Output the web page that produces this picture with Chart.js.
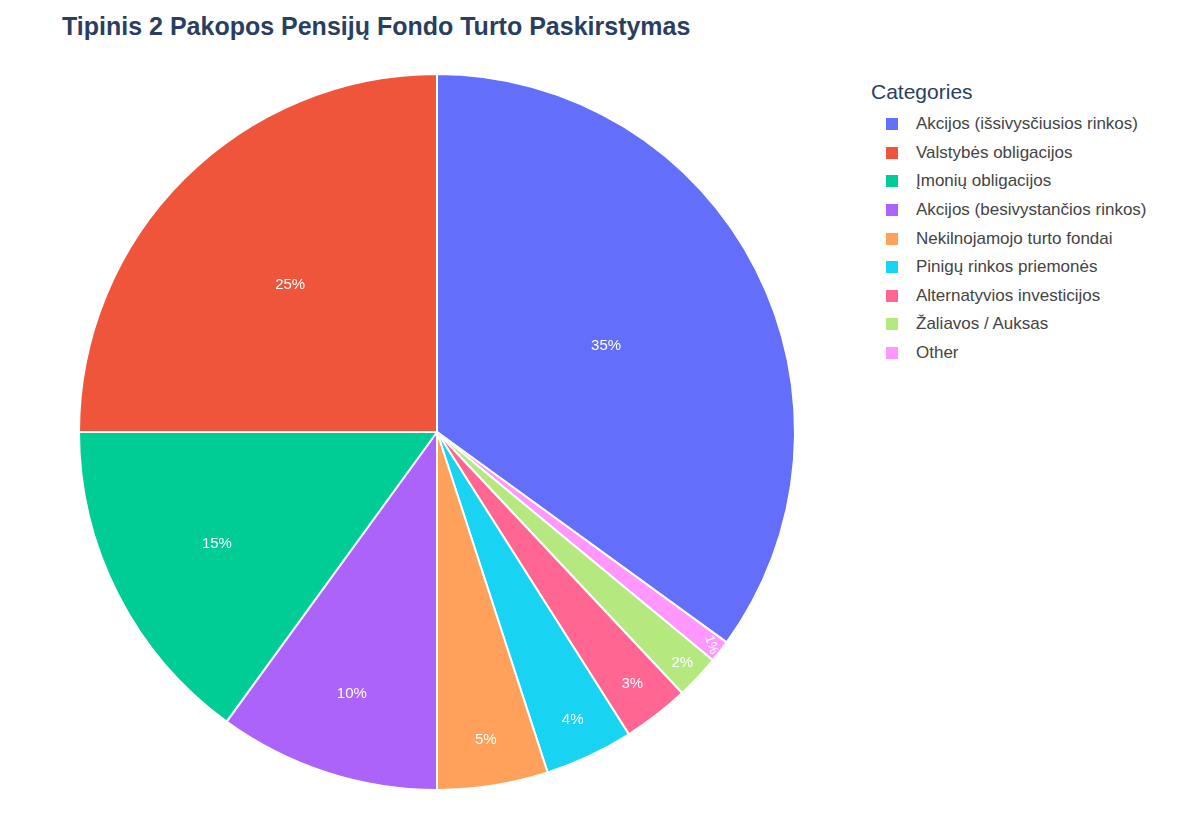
<!DOCTYPE html>
<html><head><meta charset="utf-8">
<script src="https://cdn.jsdelivr.net/npm/chart.js@4"></script>
<style>
body{margin:0;width:1200px;height:840px;background:#fff;font-family:"Liberation Sans",Arial,sans-serif;position:relative;overflow:hidden}
#title{position:absolute;left:62px;top:12px;font-size:25px;font-weight:bold;color:#2a3f5f}
#wrap{position:absolute;left:74px;top:69px;width:726px;height:726px}
#legend{position:absolute;left:871px;top:80px;color:#444}
#legend .t{font-size:21px;margin-bottom:6px;color:#2a3f5f}
#legend .i{font-size:17px;height:28.6px;display:flex;align-items:center;padding-left:15px}
#legend .s{width:12px;height:12px;margin-right:18px}
</style></head><body>
<div id="title">Tipinis 2 Pakopos Pensijų Fondo Turto Paskirstymas</div>
<div id="wrap"><canvas id="c"></canvas></div>
<div id="legend"></div>
<script>
const categories=["Akcijos (išsivysčiusios rinkos)","Other","Žaliavos / Auksas","Alternatyvios investicijos","Pinigų rinkos priemonės","Nekilnojamojo turto fondai","Akcijos (besivystančios rinkos)","Įmonių obligacijos","Valstybės obligacijos"];
const values=[35,1,2,3,4,5,10,15,25];
const colors=["#636efa","#ff97ff","#b6e880","#ff6692","#19d3f3","#ffa15a","#ab63fa","#00cc96","#ef553b"];
const labelRadius=[0.53,0.97,0.94,0.89,0.89,0.87,0.77,0.69,0.58];
const total=values.reduce((a,b)=>a+b,0);
const pct={id:'pct',afterDatasetsDraw(ch){const ctx=ch.ctx;const meta=ch.getDatasetMeta(0);
meta.data.forEach((a,i)=>{const ang=(a.startAngle+a.endAngle)/2;const r=a.outerRadius*labelRadius[i];
const x=a.x+Math.cos(ang)*r,y=a.y+Math.sin(ang)*r;ctx.save();ctx.translate(x,y);
if(values[i]<2)ctx.rotate(ang+Math.PI/2-Math.PI/2+0.6);
ctx.fillStyle='#fff';ctx.font=(values[i]<2?'13px':'15px')+' "Liberation Sans",Arial';ctx.textAlign='center';ctx.textBaseline='middle';
ctx.fillText(Math.round(values[i]/total*100)+'%',0,0);ctx.restore();});}};
new Chart(document.getElementById('c'),{type:'pie',data:{labels:categories,datasets:[{data:values,backgroundColor:colors,borderColor:'#fff',borderWidth:2}]},
options:{responsive:true,maintainAspectRatio:false,animation:false,layout:{padding:4},plugins:{legend:{display:false},tooltip:{enabled:false}}},plugins:[pct]});
const lg=document.getElementById('legend');lg.innerHTML='<div class="t">Categories</div>';
values.map((v,i)=>i).sort((a,b)=>values[b]-values[a]).forEach(i=>{lg.innerHTML+=`<div class="i"><div class="s" style="background:${colors[i]}"></div>${categories[i]}</div>`;});
</script></body></html>
